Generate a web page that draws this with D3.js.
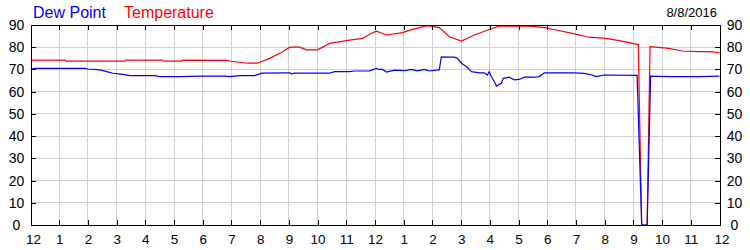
<!DOCTYPE html>
<html>
<head>
<meta charset="utf-8">
<script src="https://cdn.jsdelivr.net/npm/d3@7"></script>
<style>
  html, body { margin: 0; padding: 0; background: #fff; }
  svg { display: block; }
  text { font-family: "Liberation Sans", Arial, sans-serif; }
</style>
</head>
<body>
<svg id="chart" width="750" height="250"></svg>
<script>
// ---- Data (time in hours since midnight, 8/8/2016) ----
const dateLabel = "8/8/2016";
const seriesNames = ["Dew Point", "Temperature"];
const xTickLabels = ["12","1","2","3","4","5","6","7","8","9","10","11","12","1","2","3","4","5","6","7","8","9","10","11","12"];
const yTickValues = [0,10,20,30,40,50,60,70,80,90];

const tempTimes = [0,1.2,1.23,3.29,3.32,4.61,4.64,5.27,5.3,6.83,7.0,7.56,7.91,8.33,8.78,9.03,9.37,9.62,10.0,10.42,11.11,11.57,11.88,12.05,12.4,12.96,13.3,13.83,14.24,14.59,15.01,15.46,15.98,16.33,17.37,17.9,18.31,18.87,19.46,20.05,20.5,21.17,21.29,21.48,21.58,22.24,22.69,23.29,23.71,24];
const tempValues = [74.2,74.2,73.7,73.7,74.2,74.2,73.7,73.7,74.2,74.1,73.7,72.8,72.8,75,78,80,80,78.8,78.8,81.7,83.2,84,86.3,87.2,85.5,86.6,88,89.7,88.8,84.7,82.8,85.5,88,89.5,89.5,88.8,87.75,86.25,84.5,84,83,81.2,0,0,80.3,79.5,78.3,78,78,77.5];

const dewTimes = [0,0.23,1.9,2.0,2.42,2.66,2.87,3.22,3.46,4.33,4.5,5.2,5.9,6.77,6.94,7.29,7.81,8.05,9.03,9.1,9.2,10.42,10.59,11.11,11.29,11.81,12.05,12.16,12.26,12.4,12.68,13.03,13.27,13.48,13.72,13.9,14.17,14.24,14.31,14.59,14.77,14.87,15.01,15.18,15.36,15.64,15.81,15.91,15.98,16.05,16.16,16.23,16.4,16.47,16.68,16.85,17.03,17.2,17.55,17.72,17.9,18.94,19.29,19.57,19.7,19.98,21.13,21.29,21.48,21.6,22.3,23.3,24];
const dewValues = [70.2,70.5,70.5,70.2,69.8,69,68.3,67.8,67.2,67.2,66.8,66.8,67,67,66.8,67.2,67.2,68.3,68.5,68,68.3,68.3,69,69,69.3,69.4,70.5,70,70,68.8,69.7,69.5,70,69.4,70,69.3,69.8,69.8,75.7,75.5,75.5,75,72.8,71.3,69,68.5,68.5,67.5,69,66.8,64.5,62.5,63.8,66,66.5,65.3,65.5,66.5,66.5,66.8,68.5,68.5,68.2,67.5,66.8,67.5,67.3,0,0,67,66.8,66.8,67];

// ---- Layout ----
const svg = d3.select("#chart");
const pLeft = 30.5, pRight = 719.5, pTop = 25, pBottom = 225;

const x = d3.scaleLinear().domain([0, 24]).range([pLeft, pRight]);
const y = d3.scaleLinear().domain([0, 90]).range([pBottom, pTop]);

// grid
const grid = svg.append("g").attr("stroke", "#d0d0d0").attr("stroke-width", 1).attr("shape-rendering", "crispEdges");
grid.selectAll("line.v").data(d3.range(1, 24)).join("line").attr("class", "v")
  .attr("x1", d => x(d)).attr("x2", d => x(d)).attr("y1", pTop).attr("y2", pBottom);
grid.selectAll("line.h").data(yTickValues.slice(1, -1)).join("line").attr("class", "h")
  .attr("x1", pLeft).attr("x2", pRight).attr("y1", d => y(d)).attr("y2", d => y(d));

// lines
const line = (times) => d3.line().x((d, i) => x(times[i])).y(d => y(d));
svg.append("path").datum(tempValues)
  .attr("fill", "none").attr("stroke", "#ff0000").attr("stroke-width", 1.2)
  .attr("d", line(tempTimes));
svg.append("path").datum(dewValues)
  .attr("fill", "none").attr("stroke", "#0000ff").attr("stroke-width", 1.2)
  .attr("d", line(dewTimes));

// axes
const fmtX = (d, i) => xTickLabels[i];
const styleAxis = (size) => g => {
  g.select(".domain").attr("stroke", "#000").attr("shape-rendering", "crispEdges");
  g.selectAll(".tick line").attr("stroke", "#000").attr("shape-rendering", "crispEdges");
  g.selectAll("text").attr("fill", "#000").style("font-size", size + "px")
    .style("font-family", "'Liberation Sans', Arial, sans-serif");
};

svg.append("g").attr("transform", `translate(0,${pBottom})`)
  .call(d3.axisBottom(x).tickValues(d3.range(0, 25)).tickFormat(fmtX).tickSizeInner(-5).tickSizeOuter(0).tickPadding(9))
  .call(styleAxis(13.5))
  .call(g => g.selectAll(".tick text").attr("dx", (d, i) => i === 0 ? 2.5 : (i === 24 ? 2 : 0)));

svg.append("g").attr("transform", `translate(0,${pTop})`)
  .call(d3.axisTop(x).tickValues(d3.range(0, 25)).tickFormat("").tickSizeInner(-5).tickSizeOuter(0))
  .call(styleAxis(13));

svg.append("g").attr("transform", `translate(${pLeft},0)`)
  .call(d3.axisLeft(y).tickValues(yTickValues).tickSizeInner(-5).tickSizeOuter(0))
  .call(styleAxis(14))
  .call(g => g.selectAll(".tick text").attr("x", -14).attr("text-anchor", "middle"));

svg.append("g").attr("transform", `translate(${pRight},0)`)
  .call(d3.axisRight(y).tickValues(yTickValues).tickSizeInner(-5).tickSizeOuter(0))
  .call(styleAxis(14))
  .call(g => g.selectAll(".tick text").attr("x", 15).attr("text-anchor", "middle"));

// legend + date
svg.append("text").attr("x", 33).attr("y", 18).attr("fill", "#0000ff")
  .style("font-size", "16px").text(seriesNames[0]);
svg.append("text").attr("x", 124).attr("y", 18).attr("fill", "#ff0000")
  .style("font-size", "16px").text(seriesNames[1]);
svg.append("text").attr("x", 717).attr("y", 17).attr("text-anchor", "end").attr("fill", "#000")
  .style("font-size", "13px").text(dateLabel);
</script>
</body>
</html>
